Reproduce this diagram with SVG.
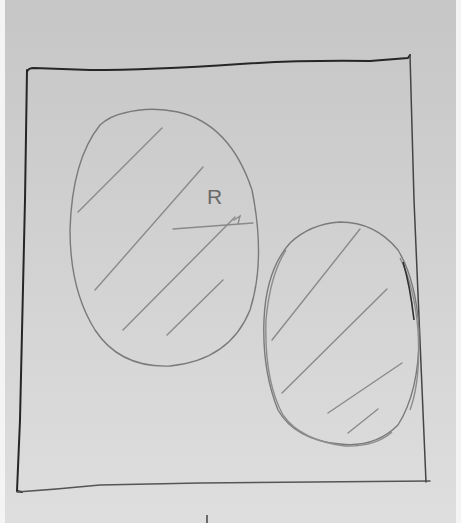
<svg xmlns="http://www.w3.org/2000/svg" width="461" height="523" viewBox="0 0 461 523">
<defs>
<linearGradient id="bg" x1="0" y1="0" x2="0" y2="1">
<stop offset="0" stop-color="#c6c6c6"/>
<stop offset="0.5" stop-color="#d2d2d2"/>
<stop offset="1" stop-color="#dedede"/>
</linearGradient>
<style>
.frame{fill:none;stroke:#262626;stroke-width:2;stroke-linecap:round;stroke-linejoin:round}
.oval{fill:none;stroke:#7a7a7a;stroke-width:1.4}
.hatch{fill:none;stroke:#8a8a8a;stroke-width:1.4;stroke-linecap:round}
.lbl{font-family:"Liberation Sans",Arial,sans-serif;font-size:21px;fill:#6a6a6a}
</style>
</defs>
<rect x="0" y="0" width="461" height="523" fill="url(#bg)"/>
<rect x="0" y="0" width="5" height="523" fill="#f4f4f4"/>
<rect x="456" y="0" width="5" height="523" fill="#f4f4f4"/>
<g id="frame">
<path class="frame" d="M27,72 Q28,68 34,68 L90,70 Q150,70 240,64 Q300,60 370,61 L408,58 L410,55"/>
<path class="frame" d="M27,70 L25,200 Q22,330 20,420 L17,491 L22,492"/>
<path class="frame" d="M17,492 Q60,489 100,485 L200,483 Q320,482 430,481" style="stroke:#555;stroke-width:1.6"/>
<path class="frame" d="M410,55 L414,200 Q420,350 426,482" style="stroke:#444;stroke-width:1.5"/>
</g>
<g id="region-R">
<path class="oval" d="M124,113 Q150,106 178,112 Q230,124 252,190 Q266,260 250,310 Q230,360 170,366 Q120,368 95,330 Q70,290 70,230 Q72,160 100,125 Q110,116 124,113 Z"/>
<path class="hatch" d="M78,212 L162,128"/>
<path class="hatch" d="M95,290 L203,167"/>
<path class="hatch" d="M123,330 L235,217"/>
<path class="hatch" d="M167,335 L223,280"/>
<path class="hatch" d="M173,229 L253,223 M234,220 L240,216 L238,224"/>
<text class="lbl" x="207" y="204">R</text>
</g>
<g id="region-2">
<path class="oval" d="M340,222 Q375,222 398,250 Q416,280 419,330 Q420,390 398,425 Q375,448 340,444 Q295,440 278,410 Q262,370 264,320 Q266,270 290,243 Q310,224 340,222 Z"/>
<path class="oval" d="M286,250 Q270,275 266,320 Q264,380 283,415 Q300,440 345,446 Q375,447 392,432 M400,258 Q414,285 418,330 Q421,380 410,410" style="stroke:#8c8c8c"/>
<path d="M403,262 Q410,285 414,320" fill="none" stroke="#303030" stroke-width="1.6"/>
<path class="hatch" d="M272,340 L360,229"/>
<path class="hatch" d="M282,393 L387,289"/>
<path class="hatch" d="M328,413 L402,363"/>
<path class="hatch" d="M348,433 L378,409"/>
</g>
<path d="M207,515 L207,523" stroke="#444" stroke-width="1.5"/>
</svg>
